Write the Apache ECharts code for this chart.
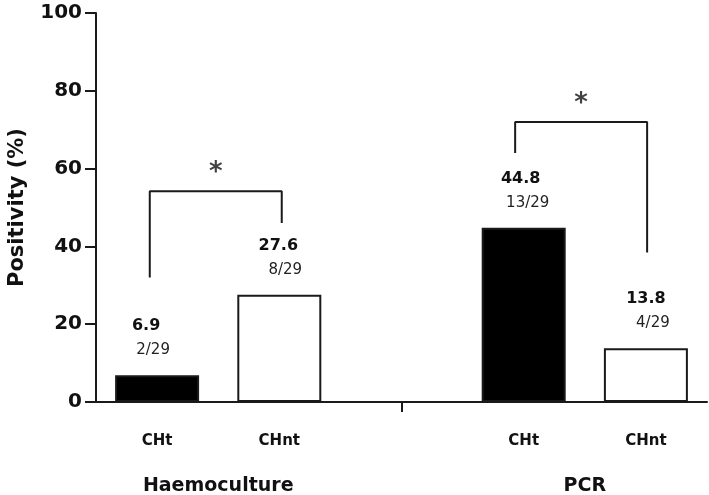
<!DOCTYPE html>
<html>
<head>
<meta charset="utf-8">
<script src="https://cdn.jsdelivr.net/npm/echarts@6/dist/echarts.min.js"></script>
<style>
  html, body { margin: 0; padding: 0; background: #fff; }
  #chart { width: 709px; height: 495px; }
</style>
</head>
<body>
<div id="chart"></div>
<script>
// data
const categories = ['CHt', 'CHnt', '', 'CHt', 'CHnt'];
const positivity = [6.9, 27.6, null, 44.8, 13.8];
const counts = ['2/29', '8/29', '', '13/29', '4/29'];
const treated = [true, false, null, true, false];
const groups = ['Haemoculture', 'PCR'];
const groupCenters = [1, 4]; // on the 0..5 band scale
const yTicks = [0, 20, 40, 60, 80, 100];
// significance brackets (x in band units, y in %)
const bracketX = [[0.44, 1.52], [3.43, 4.51]];
const bracketTop = [54.2, 72];
const bracketLegs = [[32, 46], [64, 38.4]];
const bracketMark = ['*', '*'];

const FONT = 'DejaVu Sans';
const INK = '#1a1a1a';
const labelShift = [-11, -1, 0, -3, 0];

const chart = echarts.init(document.getElementById('chart'));

const barData = positivity.map((v, i) => {
  if (v === null) return '-';
  return {
    value: v,
    itemStyle: {
      color: treated[i] ? '#000' : '#fff',
      borderColor: INK,
      borderWidth: 2
    },
    label: {
      offset: [labelShift[i], 0],
      formatter: '{a|' + v.toFixed(1) + '}\n{b|' + counts[i] + '}'
    }
  };
});

const bracketSeries = bracketX.map((xs, k) => ({
  type: 'line',
  xAxisIndex: 1,
  yAxisIndex: 0,
  symbol: 'none',
  silent: true,
  lineStyle: { color: INK, width: 2 },
  data: [
    [xs[0], bracketLegs[k][0]],
    [xs[0], bracketTop[k]],
    [xs[1], bracketTop[k]],
    [xs[1], bracketLegs[k][1]]
  ]
}));

const starSeries = {
  type: 'scatter',
  xAxisIndex: 1,
  yAxisIndex: 0,
  symbolSize: 0,
  silent: true,
  label: {
    show: true,
    position: 'top',
    distance: 5,
    color: '#111',
    fontFamily: FONT,
    fontWeight: 'bold',
    fontSize: 26,
    formatter: (p) => bracketMark[p.dataIndex]
  },
  data: bracketX.map((xs, k) => [(xs[0] + xs[1]) / 2, bracketTop[k]])
};

chart.setOption({
  animation: false,
  backgroundColor: '#fff',
  grid: {
    left: 96, right: 2, top: 13, bottom: 93,
    containLabel: false,
    outerBoundsMode: 'none'
  },
  xAxis: [
    {
      type: 'category',
      data: categories,
      axisLine: { lineStyle: { color: INK, width: 2 } },
      axisTick: {
        show: true,
        alignWithLabel: true,
        length: 10,
        interval: (i) => i === 2,
        lineStyle: { color: INK, width: 2 }
      },
      axisLabel: {
        margin: 32,
        color: '#111',
        fontFamily: FONT,
        fontWeight: 'bold',
        fontSize: 15
      }
    },
    {
      type: 'value',
      min: 0,
      max: 5,
      interval: 1,
      position: 'bottom',
      axisLine: { show: false },
      axisTick: { show: false },
      splitLine: { show: false },
      axisLabel: {
        margin: 75,
        color: '#111',
        fontFamily: FONT,
        fontWeight: 'bold',
        fontSize: 19,
        formatter: (v) => {
          const k = groupCenters.indexOf(v);
          return k >= 0 ? groups[k] : '';
        }
      }
    }
  ],
  yAxis: {
    type: 'value',
    min: yTicks[0],
    max: yTicks[yTicks.length - 1],
    interval: 20,
    name: 'Positivity (%)',
    nameLocation: 'middle',
    nameGap: 68,
    nameTextStyle: {
      color: '#111',
      fontFamily: FONT,
      fontWeight: 'bold',
      fontSize: 21
    },
    axisLine: { show: true, lineStyle: { color: INK, width: 2 } },
    axisTick: { show: true, length: 11, lineStyle: { color: INK, width: 2 } },
    splitLine: { show: false },
    axisLabel: {
      margin: 14,
      color: '#111',
      fontFamily: FONT,
      fontWeight: 'bold',
      fontSize: 20
    }
  },
  series: [
    {
      type: 'bar',
      xAxisIndex: 0,
      barWidth: 84,
      data: barData,
      label: {
        show: true,
        position: 'top',
        distance: 13,
        rich: {
          a: { fontFamily: FONT, fontWeight: 'bold', fontSize: 16, color: '#111', lineHeight: 24 },
          b: { fontFamily: FONT, fontSize: 15, color: '#222', lineHeight: 24, padding: [0, 0, 0, 14] }
        }
      }
    },
    ...bracketSeries,
    starSeries
  ]
});
</script>
</body>
</html>
